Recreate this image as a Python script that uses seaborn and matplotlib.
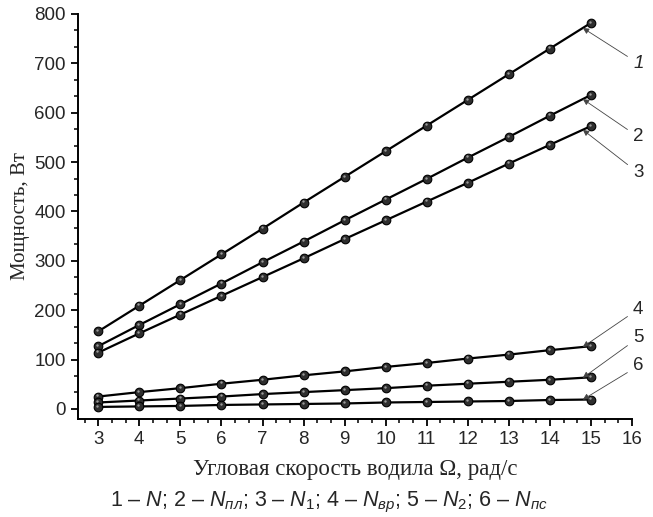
import numpy as np
import pandas as pd
import matplotlib
matplotlib.use("Agg")
import matplotlib.pyplot as plt
from matplotlib.ticker import AutoMinorLocator, MultipleLocator
from matplotlib.transforms import ScaledTranslation
import seaborn as sns

# Data
omega = [3, 4, 5, 6, 7, 8, 9, 10, 11, 12, 13, 14, 15]
n_total = [157, 209, 261, 313, 365, 418, 470, 522, 574, 626, 678, 730, 782]
n_pl = [127, 170, 212, 254, 297, 339, 382, 424, 466, 509, 551, 594, 636]
n_1 = [114, 153, 191, 229, 267, 305, 344, 382, 420, 458, 497, 535, 573]
n_vr = [25, 34, 42, 51, 59, 68, 76, 85, 93, 102, 110, 119, 127]
n_2 = [13, 17, 21, 25, 30, 34, 38, 42, 47, 51, 55, 59, 64]
n_ps = [4, 5, 6, 8, 9, 10, 11, 13, 14, 15, 16, 18, 19]

curve_names = ["1", "2", "3", "4", "5", "6"]
series = [n_total, n_pl, n_1, n_vr, n_2, n_ps]
label_y = [700, 551, 478, 202, 144, 87]

sns.set_style("ticks")
plt.rcParams["font.family"] = ["Liberation Sans", "DejaVu Sans"]
plt.rcParams["mathtext.fontset"] = "custom"
plt.rcParams["mathtext.rm"] = "Liberation Sans"
plt.rcParams["mathtext.it"] = "Liberation Sans:italic"

df = pd.concat(
    [pd.DataFrame({"omega": omega, "power": s, "curve": c}) for c, s in zip(curve_names, series)],
    ignore_index=True,
)

fig = plt.figure(figsize=(6.53, 5.17), dpi=100)
ax = fig.add_axes([0.119, 0.19, 0.849, 0.783])

sns.lineplot(
    data=df, x="omega", y="power", hue="curve",
    palette=["black"] * 6, marker="o", markersize=6.2,
    markerfacecolor="#2e2e2e", markeredgecolor="black", markeredgewidth=0.8,
    linewidth=1.6, legend=False, ax=ax,
)
# small highlight on each marker to mimic the shaded balls
shift = ax.transData + ScaledTranslation(-0.6 / 72, 0.9 / 72, fig.dpi_scale_trans)
sns.scatterplot(data=df, x="omega", y="power", s=3, color="#9a9a9a",
                linewidth=0, legend=False, ax=ax, transform=shift, zorder=5)

ax.set_xlim(2.5, 16)
ax.set_ylim(-20, 800)
ax.xaxis.set_major_locator(MultipleLocator(1))
ax.yaxis.set_major_locator(MultipleLocator(100))
ax.xaxis.set_minor_locator(AutoMinorLocator(3))
ax.yaxis.set_minor_locator(AutoMinorLocator(3))
ax.tick_params(which="major", direction="out", length=5, width=1.3, labelsize=13.5, color="black")
ax.tick_params(which="minor", direction="out", length=3, width=1.1, color="black")
for side in ["left", "bottom"]:
    ax.spines[side].set_linewidth(1.4)
    ax.spines[side].set_color("black")
sns.despine(ax=ax)

ax.set_xlabel("Угловая скорость водила Ω, рад/с", family="Liberation Serif", fontsize=16.5, labelpad=8)
ax.set_ylabel("Мощность, Вт", family="Liberation Serif", fontsize=15, labelpad=3)

# curve labels with arrows pointing just before the last point
for name, s, ly in zip(curve_names, series, label_y):
    hx = omega[-1] - 0.2
    hy = s[-2] + 0.8 * (s[-1] - s[-2])
    ax.annotate(
        name, xy=(hx, hy), xytext=(16.15, ly),
        ha="center", va="center", fontsize=13.5,
        style="italic" if name == "1" else "normal",
        arrowprops=dict(arrowstyle="-|>", color="#444444", lw=0.6, mutation_scale=9,
                        shrinkA=2, shrinkB=0),
        annotation_clip=False,
    )

fig.text(0.503, 0.02,
         r"1 – $N$; 2 – $N_{пл}$; 3 – $N_1$; 4 – $N_{вр}$; 5 – $N_2$; 6 – $N_{пс}$",
         ha="center", va="baseline", fontsize=15.5)

fig.savefig("out.png", dpi=100)
